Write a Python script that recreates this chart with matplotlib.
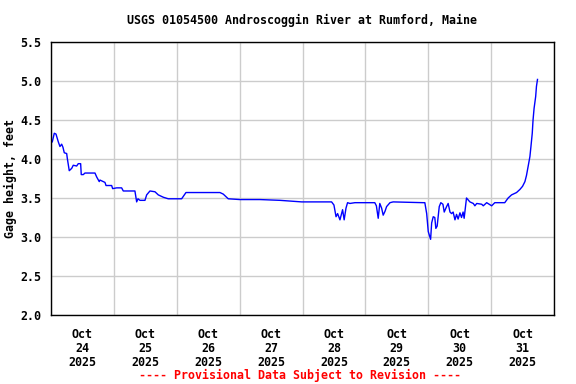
import numpy as np
import matplotlib
matplotlib.use("Agg")
import matplotlib.pyplot as plt
import matplotlib.dates as mdates

# dados (horas desde 2025-10-24 00:00, altura em pes)
hours = [0.5, 1.26, 1.9, 2.79, 3.43, 4.08, 4.58, 5.08, 5.99, 6.22, 6.98, 7.9,
         8.51, 9.81, 10.4, 11.33, 11.56, 12.33, 12.97, 16.79, 17.44, 18.43,
         18.7, 20.6, 21.0, 23.16, 23.54, 25.07, 26.98, 27.59, 32.05, 32.7,
         33.2, 33.96, 35.87, 36.52, 37.78, 39.69, 40.95, 42.85, 44.76, 49.88,
         51.52, 55.6, 64.5, 65.75, 67.66, 72.1, 79.8, 87.4, 95.7, 107.1, 108.0,
         108.8, 109.4, 110.3, 111.3, 111.9, 112.6, 113.2, 114.1, 116.0, 119.8,
         123.6, 124.2, 124.9, 125.5, 126.2, 126.8, 127.5, 128.1, 129.4, 130.6,
         142.1, 142.7, 143.4, 144.0, 144.9, 145.3, 145.9, 146.5, 146.9, 147.4,
         148.2, 148.8, 149.6, 150.1, 151.0, 151.6, 152.3, 152.9, 153.5, 154.2,
         154.8, 155.4, 156.1, 156.7, 157.3, 157.7, 158.6, 159.9, 161.2, 161.8,
         162.5, 164.4, 165.0, 166.3, 168.2, 169.4, 173.2, 174.5, 175.8, 177.7,
         179.0, 180.0, 180.9, 181.5, 182.1, 182.8, 183.2, 183.7, 184.0, 184.4,
         185.0, 185.3, 185.7]
gage = [4.22, 4.33, 4.32, 4.22, 4.16, 4.19, 4.15, 4.08, 4.07, 4.01, 3.85, 3.88,
        3.92, 3.91, 3.94, 3.94, 3.80, 3.80, 3.82, 3.82, 3.77, 3.71,
        3.73, 3.70, 3.66, 3.66, 3.62, 3.63, 3.63, 3.59, 3.59, 3.45,
        3.49, 3.47, 3.47, 3.54, 3.59, 3.58, 3.54, 3.51, 3.49, 3.49,
        3.57, 3.57, 3.57, 3.55, 3.49, 3.48, 3.48, 3.47, 3.45, 3.45, 3.41,
        3.26, 3.30, 3.22, 3.35, 3.22, 3.37, 3.44, 3.43, 3.44, 3.44,
        3.44, 3.40, 3.24, 3.43, 3.37, 3.28, 3.33, 3.39, 3.44, 3.45,
        3.44, 3.44, 3.30, 3.07, 2.97, 3.18, 3.26, 3.25, 3.11, 3.14,
        3.39, 3.44, 3.42, 3.32, 3.39, 3.43, 3.32, 3.30, 3.32, 3.22,
        3.29, 3.23, 3.31, 3.25, 3.32, 3.24, 3.50, 3.45, 3.43, 3.40,
        3.43, 3.42, 3.40, 3.44, 3.40, 3.44, 3.44, 3.50, 3.54, 3.57,
        3.61, 3.65, 3.71, 3.79, 3.90, 4.03, 4.16, 4.33, 4.50, 4.65,
        4.80, 4.93, 5.02]

start = np.datetime64("2025-10-24T00:00")
t = start + (np.array(hours) * 60).astype("timedelta64[m]")

title = "USGS 01054500 Androscoggin River at Rumford, Maine"
ylabel = "Gage height, feet"
footer = "---- Provisional Data Subject to Revision ----"
yticks = [2.0, 2.5, 3.0, 3.5, 4.0, 4.5, 5.0, 5.5]

fs = 8.4
plt.rcParams["font.family"] = "DejaVu Sans Mono"
plt.rcParams["font.weight"] = "bold"

fig = plt.figure(figsize=(5.76, 3.84), dpi=100)
ax = fig.add_axes([51/576, 1 - 315/384, 503/576, 273/384])

ax.plot(t, gage, color="#0000ff", linewidth=1)

ax.set_xlim(start, np.datetime64("2025-11-01T00:00"))
ax.set_ylim(2.0, 5.5)
ax.set_yticks(yticks)
ax.set_yticklabels([f"{v:.1f}" for v in yticks], fontsize=fs, fontweight="bold")

ax.xaxis.set_major_locator(mdates.DayLocator())
ax.xaxis.set_major_formatter(plt.NullFormatter())
ax.xaxis.set_minor_locator(mdates.HourLocator(byhour=[12]))
ax.xaxis.set_minor_formatter(mdates.DateFormatter("%b\n%d\n%Y"))
for lbl in ax.xaxis.get_minorticklabels():
    lbl.set_fontsize(fs)
    lbl.set_fontweight("bold")
    lbl.set_linespacing(1.1)

ax.tick_params(axis="both", which="both", length=0)
ax.tick_params(axis="x", which="minor", pad=9)
ax.tick_params(axis="y", pad=7)
ax.grid(True, which="major", color="#cccccc", linewidth=1)
ax.set_axisbelow(True)
for s in ax.spines.values():
    s.set_linewidth(1.0)

ax.set_ylabel(ylabel, fontsize=fs, fontweight="bold", labelpad=2)

fig.text(302/576, 1 - 20/384, title, ha="center", va="center", fontsize=fs, fontweight="bold")
fig.text(300/576, 1 - 375/384, footer, ha="center", va="center", fontsize=fs,
         fontweight="bold", color="red")

fig.savefig("out.png", dpi=100)
